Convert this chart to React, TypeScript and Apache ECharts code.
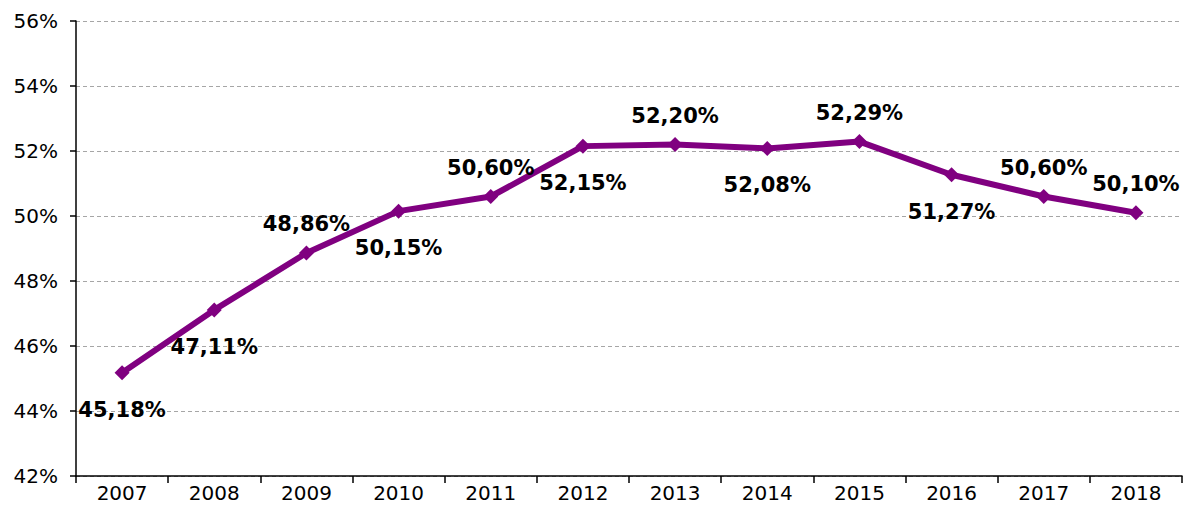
import React, { useEffect, useRef } from "react";
import * as echarts from "echarts";

const years = ["2007", "2008", "2009", "2010", "2011", "2012", "2013", "2014", "2015", "2016", "2017", "2018"];
const shares = [45.18, 47.11, 48.86, 50.15, 50.6, 52.15, 52.2, 52.08, 52.29, 51.27, 50.6, 50.1];
const labelSides = ["bottom", "bottom", "top", "bottom", "top", "bottom", "top", "bottom", "top", "bottom", "top", "top"];

const fmt = (v: number) => v.toFixed(2).replace(".", ",") + "%";

export default function App() {
  const ref = useRef<HTMLDivElement>(null);
  useEffect(() => {
    const chart = echarts.init(ref.current!, null, { renderer: "svg" });
    const font = "'DejaVu Sans', Verdana, sans-serif";
    chart.setOption({
      animation: false,
      grid: { left: 76, right: 3, top: 21, bottom: 39 },
      xAxis: {
        type: "category",
        data: years,
        boundaryGap: true,
        axisLine: { lineStyle: { color: "#000", width: 1.5 } },
        axisTick: { show: true, length: 7, lineStyle: { color: "#000", width: 1.5 }, alignWithLabel: false },
        axisLabel: { color: "#000", fontSize: 20, fontFamily: font, margin: 7 },
        splitLine: { show: false },
      },
      yAxis: {
        type: "value",
        min: 42,
        max: 56,
        interval: 2,
        axisLine: { show: true, lineStyle: { color: "#000", width: 1.5 } },
        axisTick: { show: true, length: 6, lineStyle: { color: "#000", width: 1.5 } },
        axisLabel: { color: "#000", fontSize: 20, fontFamily: font, margin: 18, formatter: (v: number) => v + "%" },
        splitLine: { show: true, lineStyle: { color: "#a6a6a6", type: [4, 3], width: 1 } },
      },
      series: [
        {
          type: "line",
          data: shares.map((v, i) => ({
            value: v,
            label: { position: labelSides[i] },
          })),
          lineStyle: { color: "#800080", width: 6 },
          itemStyle: { color: "#800080" },
          symbol: "diamond",
          symbolSize: 15,
          label: {
            show: true,
            distance: 15,
            offset: [0, 4],
            color: "#000",
            fontWeight: "bold",
            fontSize: 21,
            fontFamily: font,
            formatter: (p: any) => fmt(p.value),
          },
        },
      ],
    });
    return () => chart.dispose();
  }, []);
  return <div ref={ref} style={{ position: "fixed", left: 0, top: 0, width: 1185, height: 515, background: "#fff" }} />;
}
